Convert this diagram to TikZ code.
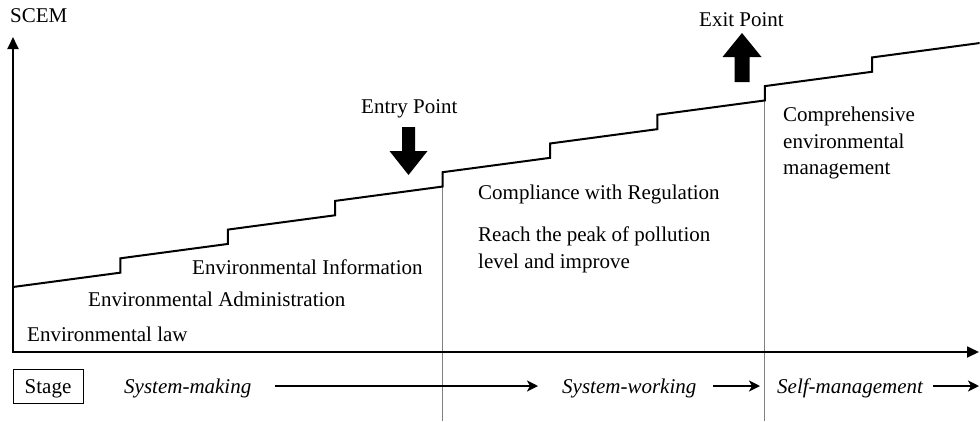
\documentclass[tikz,border=0pt]{standalone}
\usepackage{fontspec}
\setmainfont{Liberation Serif}
\usetikzlibrary{arrows.meta}
\begin{document}
\begin{tikzpicture}[x=1pt,y=-1pt,
  lbl/.style={anchor=base west, inner sep=0pt, font=\fontsize{21}{25}\selectfont},
  ilbl/.style={lbl, font=\fontsize{21}{25}\selectfont\itshape},
  axisline/.style={line width=1.8pt, line join=miter, {Triangle[length=12pt,width=11pt]}-{Triangle[length=12pt,width=11pt]}},
  stair/.style={line width=2pt, line join=miter},
  divider/.style={draw=black!50, line width=1pt},
  flow/.style={line width=2pt, -{Stealth[length=11pt,width=11pt,inset=3pt]}},
  blockarrow/.style={fill=black, draw=none},
  stagebox/.style={draw, line width=0.9pt, minimum width=70pt, minimum height=34pt, inner sep=0pt, text height=14pt, text depth=0pt, font=\fontsize{21}{25}\selectfont}
]
\useasboundingbox (0,0) rectangle (980,421);

% dividers
\coordinate (d1top) at (442.6,186.55);
\coordinate (d1bot) at (442.6,421);
\coordinate (d2top) at (764.8,100.45);
\coordinate (d2bot) at (764.8,421);
\draw[divider] (d1top) -- (d1bot);
\draw[divider] (d2top) -- (d2bot);

% axes
\coordinate (O) at (13,352);
\coordinate (ytip) at (13,37);
\coordinate (xtip) at (979,352);
\draw[axisline] (ytip) -- (O) -- (xtip);

% staircase
\coordinate (s0) at (13,287);
\draw[stair] (s0)
  \foreach \k in {1,...,8} { -- ++(107.4,-14.35) -- ++(0,-14.35) }
  -- ++(107.4,-14.35);

% entry / exit block arrows
\draw[blockarrow] (402,127) -- (415,127) -- (415,151) -- (427.5,151) -- (408.5,175) -- (389.5,151) -- (402,151) -- cycle;
\draw[blockarrow] (734.5,82) -- (749.5,82) -- (749.5,57) -- (761.5,57) -- (742,33) -- (722.5,57) -- (734.5,57) -- cycle;

% labels
\node[lbl] (scem) at (10,22) {SCEM};
\node[lbl] (exit) at (699,26) {Exit Point};
\node[lbl] (entry) at (361,113) {Entry Point};
\node[lbl] (comp1) at (783,121) {Comprehensive};
\node[lbl] (comp2) at (783,148) {environmental};
\node[lbl] (comp3) at (783,174) {management};
\node[lbl] (compl) at (478,199) {Compliance with Regulation};
\node[lbl] (reach1) at (478,241) {Reach the peak of pollution};
\node[lbl] (reach2) at (478,268) {level and improve};
\node[lbl] (info) at (192,274) {Environmental Information};
\node[lbl] (admin) at (88,306) {Environmental Administration};
\node[lbl] (law) at (27,341) {Environmental law};

% stage row
\node[stagebox] (stage) at (48,386) {Stage};
\node[ilbl] (smaking) at (124,393) {System-making};
\node[ilbl] (sworking) at (562,393) {System-working};
\node[ilbl] (smanage) at (777,393) {Self-management};
\coordinate (f1s) at (275,386);
\coordinate (f1e) at (538,386);
\coordinate (f2s) at (713,386);
\coordinate (f2e) at (760,386);
\coordinate (f3s) at (933,386);
\coordinate (f3e) at (979,386);
\draw[flow] (f1s) -- (f1e);
\draw[flow] (f2s) -- (f2e);
\draw[flow] (f3s) -- (f3e);
\end{tikzpicture}
\end{document}
